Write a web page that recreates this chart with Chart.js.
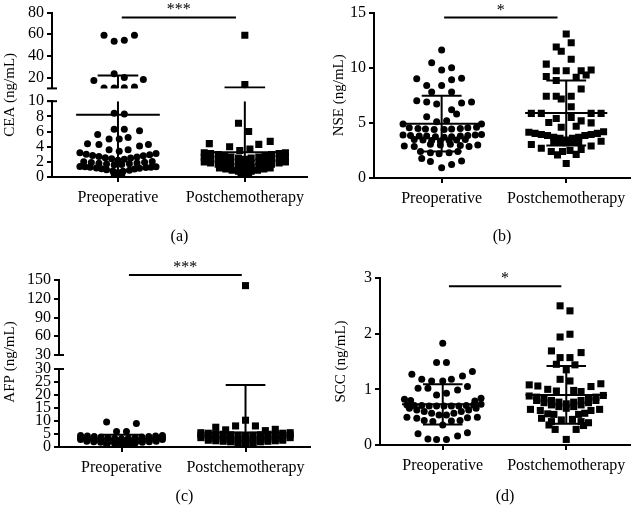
<!DOCTYPE html>
<html><head><meta charset="utf-8">
<script src="https://cdn.jsdelivr.net/npm/chart.js@4.4.1/dist/chart.umd.min.js"></script>
<style>
html,body{margin:0;padding:0;background:#fff;}
body{width:635px;height:506px;position:relative;overflow:hidden;}
.panel{position:absolute;}
</style></head><body>
<div class="panel" style="left:0;top:0;width:315px;height:250px"><canvas id="chartA"></canvas></div>
<div class="panel" style="left:315px;top:0;width:320px;height:250px"><canvas id="chartB"></canvas></div>
<div class="panel" style="left:0;top:250px;width:315px;height:256px"><canvas id="chartC"></canvas></div>
<div class="panel" style="left:315px;top:250px;width:320px;height:256px"><canvas id="chartD"></canvas></div>
<script>
const categories = ['Preoperative', 'Postchemotherapy'];
const captions = ['(a)', '(b)', '(c)', '(d)'];

// (a) CEA
const ceaTicksUpper = [20, 40, 60, 80];
const ceaTicksLower = [0, 2, 4, 6, 8, 10];
const ceaPreValues = [59.1,53.6,54.5,59.1,17.3,23.6,20.0,18.2,10.3,10.3,10.6,11.2,
  8.4,8.3,6.3,6.3,6.1,5.6,5.0,5.0,5.2,4.4,4.3,4.1,4.3,3.6,3.4,3.6,
  3.2,3.0,2.85,2.7,2.55,2.4,2.2,2.35,2.5,2.65,2.8,2.95,3.1,
  2.0,1.9,1.8,1.7,1.6,1.65,1.75,1.85,1.95,2.05,
  1.4,1.35,1.3,1.2,1.1,0.95,0.8,0.6,0.75,0.9,1.05,1.15,1.25,1.3,1.35,
  0.35,0.3];
const ceaPreJitter = [-0.11,-0.03,0.05,0.13,-0.19,-0.03,0.05,0.20,-0.11,-0.03,0.05,0.13,
  -0.03,0.05,-0.03,0.05,0.17,-0.16,-0.07,0.01,0.08,-0.24,-0.15,0.17,0.24,-0.07,0.01,0.08,
  -0.30,-0.25,-0.20,-0.15,-0.10,-0.05,0,0.05,0.10,0.15,0.20,0.25,0.30,
  -0.27,-0.21,-0.15,-0.09,-0.03,0.03,0.09,0.15,0.21,0.27,
  -0.30,-0.26,-0.22,-0.17,-0.13,-0.09,-0.04,0,0.04,0.09,0.13,0.17,0.22,0.26,0.30,
  -0.03,0.03];
const ceaPostValues = [59.1,13.6,
  7.1,6.0,4.4,4.0,3.5,3.7,4.3,4.7,
  3.2,3.1,2.95,2.8,2.65,2.5,2.35,2.5,2.65,2.8,2.95,3.1,3.2,
  2.6,2.45,2.3,2.15,2.0,1.85,1.7,1.85,2.0,2.15,2.3,2.45,2.6,
  2.0,1.85,1.7,1.55,1.4,1.25,1.1,1.25,1.4,1.55,1.7,1.85,2.0,
  1.2,1.05,0.9,0.75,0.5,0.75,0.9,1.05,1.2,
  0.3,0.25];
const ceaPostJitter = [0,0,
  -0.05,0.03,-0.28,-0.12,-0.04,0.04,0.11,0.2,
  -0.32,-0.27,-0.21,-0.16,-0.11,-0.05,0,0.05,0.11,0.16,0.21,0.27,0.32,
  -0.32,-0.27,-0.21,-0.16,-0.11,-0.05,0,0.05,0.11,0.16,0.21,0.27,0.32,
  -0.32,-0.27,-0.21,-0.16,-0.11,-0.05,0,0.05,0.11,0.16,0.21,0.27,0.32,
  -0.2,-0.15,-0.1,-0.05,0,0.05,0.1,0.15,0.2,
  -0.03,0.03];
const ceaMean = [8.2, 3.25];
const ceaSD = [13.6, 7.65];

// (b) NSE
const nseTicks = [0, 5, 10, 15];
const nsePreValues = [11.6,10.45,9.8,10.0,9.0,8.4,8.4,8.9,9.05,7.8,7.8,7.0,6.9,6.7,6.8,6.9,6.2,5.8,5.55,5.1,5.2,
  4.9,4.9,
  4.55,4.5,4.45,4.4,4.4,4.45,4.5,4.55,4.6,
  3.9,3.85,3.8,3.8,3.75,3.7,3.75,3.8,3.85,3.9,3.95,
  3.5,3.45,3.4,3.35,3.4,3.45,3.5,
  2.9,2.85,3.05,3.0,3.05,2.95,2.85,3.0,
  2.4,2.3,2.2,2.3,2.4,
  1.76,1.49,1.55,1.22,0.92];
const nsePreJitter = [0,-0.08,0,0.08,-0.2,-0.12,0,0.08,0.16,-0.08,0.08,-0.2,-0.12,-0.04,0.16,0.24,0.08,0.12,-0.12,-0.04,0.04,
  -0.31,0.32,
  -0.26,-0.19,-0.13,-0.06,0.02,0.08,0.15,0.21,0.28,
  -0.31,-0.25,-0.18,-0.12,-0.05,0.02,0.08,0.15,0.21,0.27,0.32,
  -0.22,-0.15,-0.08,-0.01,0.06,0.12,0.19,
  -0.3,-0.22,-0.09,-0.01,0.07,0.15,0.22,0.29,
  -0.17,-0.09,-0.02,0.06,0.13,
  -0.16,-0.09,0.16,0.08,0];
const nsePostValues = [13.06,12.27,11.88,11.49,10.77,10.33,9.73,9.73,9.73,9.79,9.34,9.2,8.84,9.14,8.07,7.41,7.41,7.17,7.41,6.46,
  5.86,5.86,5.86,5.86,
  5.03,5.39,5.48,5.18,5.0,4.6,4.7,
  4.15,4.05,3.95,3.85,3.7,3.6,3.45,3.6,3.7,3.85,3.95,4.05,4.2,
  3.3,3.25,3.2,3.25,3.3,
  3.04,2.7,2.41,2.1,2.14,2.59,2.9,3.33,1.31,2.4,2.5];
const nsePostJitter = [0,0.04,-0.08,-0.04,0.04,-0.16,-0.08,0,0.12,0.2,0.16,-0.16,-0.08,0.08,0.12,-0.16,-0.08,-0.04,0.04,0.04,
  -0.28,-0.2,0.2,0.28,
  -0.14,-0.08,0.04,0.12,0.2,-0.04,0.08,
  -0.3,-0.25,-0.2,-0.15,-0.1,-0.05,0,0.05,0.1,0.15,0.2,0.25,0.3,
  -0.1,-0.05,0,0.05,0.1,
  -0.28,-0.2,-0.12,-0.07,0.08,0.12,0.2,0.28,0,-0.03,0.03];
const nseMean = [4.93, 5.9];
const nseSD = [2.53, 2.95];

// (c) AFP
const afpTicksUpper = [30, 60, 90, 120, 150];
const afpTicksLower = [0, 5, 10, 15, 20, 25, 30];
const afpPreValues = [9.6,9.0,6.0,6.0,
  4.4,4.2,4.0,3.8,3.6,3.4,3.2,3.4,3.6,3.8,4.0,4.2,4.4,
  3.6,3.4,3.2,3.0,2.8,2.6,2.4,2.6,2.8,3.0,3.2,3.4,3.6,
  2.9,2.7,2.5,2.3,2.1,1.9,1.7,1.9,2.1,2.3,2.5,2.7,2.9,
  2.2,2.0,1.8,1.6,1.4,1.2,1.4,1.6,1.8,2.0,2.2,
  0.8,0.6,0.9,0.9];
const afpPreJitter = [-0.12,0.12,-0.04,0.04,
  -0.33,-0.275,-0.22,-0.165,-0.11,-0.055,0,0.055,0.11,0.165,0.22,0.275,0.33,
  -0.33,-0.275,-0.22,-0.165,-0.11,-0.055,0,0.055,0.11,0.165,0.22,0.275,0.33,
  -0.33,-0.275,-0.22,-0.165,-0.11,-0.055,0,0.055,0.11,0.165,0.22,0.275,0.33,
  -0.28,-0.224,-0.168,-0.112,-0.056,0,0.056,0.112,0.168,0.224,0.28,
  -0.05,0.03,0.1,-0.12];
const afpPostValues = [141,
  10.3,7.6,6.6,8.1,8.1,6.3,6.8,
  5.5,5.3,5.1,4.9,4.7,4.5,4.3,4.5,4.7,4.9,5.1,5.3,5.5,
  4.6,4.4,4.2,4.0,3.8,3.6,3.3,3.6,3.8,4.0,4.2,4.4,4.6,
  3.6,3.4,3.2,3.0,2.8,2.6,2.3,2.6,2.8,3.0,3.2,3.4,3.6,
  2.6,2.4,2.2,2.0,1.7,1.4,1.7,2.0,2.2,2.4,2.6,
  0.8,0.5,0.8];
const afpPostJitter = [0,
  0,-0.24,-0.16,-0.08,0.08,0.16,0.24,
  -0.36,-0.3,-0.24,-0.18,-0.12,-0.06,0,0.06,0.12,0.18,0.24,0.3,0.36,
  -0.36,-0.3,-0.24,-0.18,-0.12,-0.06,0,0.06,0.12,0.18,0.24,0.3,0.36,
  -0.36,-0.3,-0.24,-0.18,-0.12,-0.06,0,0.06,0.12,0.18,0.24,0.3,0.36,
  -0.3,-0.24,-0.18,-0.12,-0.06,0,0.06,0.12,0.18,0.24,0.3,
  -0.06,0,0.06];
const afpMean = [3.2, 5.6];
const afpSD = [1.5, 18.2];

// (d) SCC
const sccTicks = [0, 1, 2, 3];
const sccPreValues = [1.83,1.48,1.48,1.27,1.18,1.15,1.15,1.18,1.24,1.32,1.02,1.02,0.99,1.05,0.9,0.93,
  0.82,0.8,0.79,0.84,
  0.72,0.71,0.71,0.7,0.7,0.7,0.7,0.7,0.71,0.72,0.73,
  0.66,0.63,0.6,0.57,0.54,0.54,0.57,0.6,0.63,0.66,
  0.5,0.48,0.49,0.5,
  0.44,0.42,0.36,0.43,0.44,
  0.2,0.11,0.1,0.1,0.16,0.22];
const sccPreJitter = [0,-0.05,0.03,-0.25,-0.17,-0.09,0,0.07,0.16,0.24,-0.2,-0.12,0.12,0.2,-0.05,0.03,
  -0.31,-0.26,0.26,0.31,
  -0.29,-0.23,-0.17,-0.11,-0.05,0.01,0.07,0.13,0.19,0.25,0.31,
  -0.27,-0.21,-0.15,-0.09,-0.03,0.03,0.09,0.15,0.21,0.27,
  -0.29,-0.21,0.2,0.28,
  -0.15,-0.08,0,0.07,0.14,
  -0.2,-0.12,-0.05,0.03,0.12,0.2];
const sccPostValues = [2.5,2.41,1.94,1.99,1.69,1.66,1.57,1.57,1.45,1.44,1.35,1.18,1.15,
  1.08,1.06,1.05,1.1,
  1.0,0.97,0.98,0.96,
  0.88,0.86,0.83,0.8,0.77,0.74,0.77,0.8,0.83,0.86,0.89,
  0.8,0.76,0.72,0.69,0.66,0.69,0.72,0.76,0.8,
  0.64,0.62,0.62,0.64,
  0.56,0.55,0.55,0.57,
  0.48,0.42,0.45,0.46,0.42,0.4,
  0.28,0.28,0.36,0.35,0.1];
const sccPostJitter = [-0.05,0.03,-0.05,0.03,-0.12,0.12,-0.05,0.03,-0.08,0.07,0,-0.05,0.03,
  -0.3,-0.23,0.2,0.28,
  -0.15,-0.08,0.06,0.12,
  -0.3,-0.24,-0.18,-0.12,-0.06,0,0.06,0.12,0.18,0.24,0.3,
  -0.24,-0.18,-0.12,-0.06,0,0.06,0.12,0.18,0.24,
  -0.29,-0.21,0.2,0.27,
  -0.15,-0.1,0.1,0.15,
  -0.2,-0.12,-0.04,0.05,0.12,0.18,
  -0.09,0.08,-0.14,0.14,0];
const sccMean = [0.73, 0.9];
const sccSD = [0.36, 0.52];

const FONT = "'Liberation Serif','Times New Roman',serif";
Chart.defaults.font.family = FONT;
Chart.defaults.font.size = 16;
Chart.defaults.color = '#000';

const MEAN_HALF = 0.33, CAP_HALF = 0.16;

const decoPlugin = {
  id: 'deco',
  afterDraw(chart, args, opts) {
    const ctx = chart.ctx;
    ctx.save();
    ctx.strokeStyle = '#000';
    ctx.lineWidth = 2;
    (opts.breaks || []).forEach(b => {
      const s = chart.scales[b.axis];
      const py = s.getPixelForValue(b.value);
      ctx.beginPath(); ctx.moveTo(s.right - 5, py); ctx.lineTo(s.right + 5, py); ctx.stroke();
    });
    if (opts.star) {
      const st = opts.star;
      const xs = chart.scales.x, ys = chart.scales[st.axis];
      ctx.fillStyle = '#000';
      ctx.font = '16px ' + FONT;
      ctx.textAlign = 'center';
      ctx.textBaseline = 'alphabetic';
      ctx.fillText(st.text, xs.getPixelForValue((st.from + st.to) / 2), ys.getPixelForValue(st.level) - 3);
    }
    ctx.restore();
  }
};

function seg(pairs, axisId, noClip) {
  const d = {type: 'line', yAxisID: axisId, data: pairs.map(p => ({x: p[0], y: p[1]})),
    borderColor: '#000', borderWidth: 2, pointRadius: 0, fill: false, order: 1};
  if (noClip) d.clip = false;
  return d;
}

function makeChart(id, P) {
  const scales = {
    x: {
      type: 'linear', min: P.xMin, max: P.xMax,
      afterBuildTicks: s => { s.ticks = categories.map((c, i) => ({value: i})); },
      afterFit: s => { s.height = P.xHeight; },
      ticks: {callback: v => categories[v], autoSkip: false, maxRotation: 0, padding: 6, font: {size: 16}},
      grid: {display: true, drawOnChartArea: false, drawTicks: true, tickLength: 5, color: '#000', lineWidth: 2},
      border: {display: true, color: '#000', width: 2},
      title: {display: true, text: P.caption, font: {size: 16}, padding: {top: 0, bottom: P.captionPad}}
    }
  };
  P.axes.forEach(a => {
    const base = {type: 'linear', position: 'left', afterFit: s => { s.width = P.yWidth; }};
    if (P.axes.length > 1) { base.stack = 'ys'; base.stackWeight = a.weight; base.weight = a.order; }
    if (a.gap) {
      Object.assign(base, {min: 0, max: 1, ticks: {display: false}, grid: {display: false}, border: {display: false}});
    } else {
      Object.assign(base, {
        min: a.min, max: a.max,
        afterBuildTicks: s => { s.ticks = a.ticks.map(v => ({value: v})); },
        ticks: {font: {size: 16}, padding: 3, autoSkip: false},
        grid: {display: true, drawOnChartArea: false, drawTicks: true, tickLength: 5, color: '#000', lineWidth: 2},
        border: {display: true, color: '#000', width: 2}
      });
    }
    if (a.title) base.title = {display: true, text: a.title, font: {size: 15}, padding: {top: P.titlePad, bottom: 0}};
    scales[a.id] = base;
  });

  const dataAxes = P.axes.filter(a => !a.gap);
  const axisForPoint = v => dataAxes.find(a => v > a.min && v <= a.max) || dataAxes[dataAxes.length - 1];
  const axisOf = v => dataAxes.find(a => v >= a.min && v <= a.max);
  const datasets = [];
  P.groups.forEach((g, gi) => {
    dataAxes.forEach(a => {
      const data = [];
      g.values.forEach((v, k) => { if (axisForPoint(v) === a) data.push({x: gi + g.jitter[k], y: v}); });
      datasets.push({type: 'scatter', yAxisID: a.id, data,
        pointStyle: gi === 0 ? 'circle' : 'rect', pointRadius: gi === 0 ? 3.5 : 5,
        backgroundColor: '#000', borderColor: '#000', borderWidth: 0, order: 2});
    });
    const m = P.mean[gi], s = P.sd[gi], lo = m - s, hi = m + s;
    dataAxes.forEach(a => {
      const y0 = Math.max(lo, a.min), y1 = Math.min(hi, a.max);
      if (y1 > y0) datasets.push(seg([[gi, y0], [gi, y1]], a.id));
    });
    const am = axisOf(m);
    if (am) datasets.push(seg([[gi - MEAN_HALF, m], [gi + MEAN_HALF, m]], am.id));
    [hi, lo].forEach(v => { const ax = axisOf(v); if (ax) datasets.push(seg([[gi - CAP_HALF, v], [gi + CAP_HALF, v]], ax.id)); });
  });
  datasets.push(seg([[P.sig.from, P.sig.level], [P.sig.to, P.sig.level]], P.sig.axis, true));

  return new Chart(document.getElementById(id), {
    type: 'scatter',
    data: {datasets},
    options: {
      responsive: true, maintainAspectRatio: false, animation: false, events: [],
      layout: {padding: P.padding},
      plugins: {legend: {display: false}, tooltip: {enabled: false}, deco: {breaks: P.breaks, star: P.sig}},
      scales
    },
    plugins: [decoPlugin]
  });
}

makeChart('chartA', {
  caption: captions[0], xMin: -0.52, xMax: 1.49, xHeight: 73, yWidth: 52, titlePad: 1, captionPad: 4,
  padding: {top: 10, right: 8, left: 0, bottom: 0},
  axes: [
    {id: 'yTop', min: 10, max: 80, ticks: ceaTicksUpper, weight: 77, order: 3},
    {id: 'yGap', gap: true, weight: 13, order: 2, title: 'CEA (ng/mL)'},
    {id: 'yLow', min: 0, max: 10, ticks: ceaTicksLower, weight: 77, order: 1}
  ],
  breaks: [{axis: 'yTop', value: 10}, {axis: 'yLow', value: 10}],
  groups: [{values: ceaPreValues, jitter: ceaPreJitter}, {values: ceaPostValues, jitter: ceaPostJitter}],
  mean: ceaMean, sd: ceaSD,
  sig: {axis: 'yTop', from: 0.03, to: 0.93, level: 75.5, text: '***'}
});

makeChart('chartB', {
  caption: captions[1], xMin: -0.543, xMax: 1.512, xHeight: 72, yWidth: 59, titlePad: 15, captionPad: 4,
  padding: {top: 10, right: 0, left: 0, bottom: 0},
  axes: [{id: 'y', min: 0, max: 15, ticks: nseTicks, title: 'NSE (ng/mL)'}],
  breaks: [],
  groups: [{values: nsePreValues, jitter: nsePreJitter}, {values: nsePostValues, jitter: nsePostJitter}],
  mean: nseMean, sd: nseSD,
  sig: {axis: 'y', from: 0.02, to: 0.93, level: 14.55, text: '*'}
});

makeChart('chartC', {
  caption: captions[2], xMin: -0.504, xMax: 1.52, xHeight: 59, yWidth: 59, titlePad: 1, captionPad: 0,
  padding: {top: 30, right: 3, left: 0, bottom: 0},
  axes: [
    {id: 'yTop', min: 30, max: 150, ticks: afpTicksUpper, weight: 75, order: 3},
    {id: 'yGap', gap: true, weight: 14, order: 2, title: 'AFP (ng/mL)'},
    {id: 'yLow', min: 0, max: 30, ticks: afpTicksLower, weight: 78, order: 1}
  ],
  breaks: [{axis: 'yTop', value: 30}, {axis: 'yLow', value: 30}],
  groups: [{values: afpPreValues, jitter: afpPreJitter}, {values: afpPostValues, jitter: afpPostJitter}],
  mean: afpMean, sd: afpSD,
  sig: {axis: 'yTop', from: 0.06, to: 0.97, level: 158, text: '***'}
});

makeChart('chartD', {
  caption: captions[3], xMin: -0.508, xMax: 1.516, xHeight: 61, yWidth: 65, titlePad: 17, captionPad: 0,
  padding: {top: 28, right: 0, left: 0, bottom: 0},
  axes: [{id: 'y', min: 0, max: 3, ticks: sccTicks, title: 'SCC (ng/mL)'}],
  breaks: [],
  groups: [{values: sccPreValues, jitter: sccPreJitter}, {values: sccPostValues, jitter: sccPostJitter}],
  mean: sccMean, sd: sccSD,
  sig: {axis: 'y', from: 0.05, to: 0.96, level: 2.85, text: '*'}
});
</script>
</body></html>
